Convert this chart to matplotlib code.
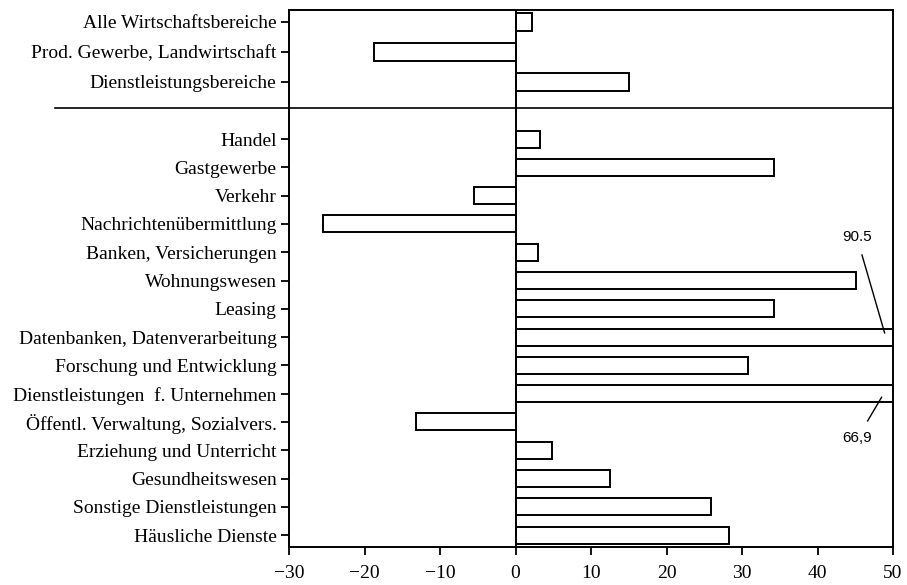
import matplotlib
matplotlib.use('Agg')
from matplotlib import pyplot as plt
from matplotlib.lines import Line2D

top_labels = ['Alle Wirtschaftsbereiche', 'Prod. Gewerbe, Landwirtschaft', 'Dienstleistungsbereiche']
top_values = [2.2, -18.8, 15.0]

labels = ['Handel', 'Gastgewerbe', 'Verkehr', 'Nachrichtenübermittlung',
          'Banken, Versicherungen', 'Wohnungswesen', 'Leasing',
          'Datenbanken, Datenverarbeitung', 'Forschung und Entwicklung',
          'Dienstleistungen  f. Unternehmen', 'Öffentl. Verwaltung, Sozialvers.',
          'Erziehung und Unterricht', 'Gesundheitswesen',
          'Sonstige Dienstleistungen', 'Häusliche Dienste']
values = [3.2, 34.3, -5.5, -25.5, 3.0, 45.1, 34.3, 90.5, 30.8, 66.9,
          -13.2, 4.9, 12.5, 25.9, 28.3]

xticks = [-30, -20, -10, 0, 10, 20, 30, 40, 50]

plt.rcParams['font.family'] = 'Liberation Serif'

fig = plt.figure(figsize=(9.07, 5.85), dpi=100)
left, width = 289 / 907, (893 - 289) / 907
ax_top = fig.add_axes([left, 1 - 108 / 585, width, 98 / 585])
ax = fig.add_axes([left, 1 - 547 / 585, width, 439 / 585])

for a, labs, vals in [(ax_top, top_labels, top_values), (ax, labels, values)]:
    pos = list(range(len(labs)))
    a.barh(pos, vals, height=0.6, color='white', edgecolor='black', linewidth=1.4)
    a.axvline(0, color='black', linewidth=1.4)
    a.set_xlim(-30, 50)
    a.set_yticks(pos)
    a.set_yticklabels(labs, fontsize=14)
    a.tick_params(axis='y', direction='out', length=6, width=1.3, pad=3)
    for s in a.spines.values():
        s.set_linewidth(1.4)

ax_top.set_ylim(2.87, -0.4)
ax_top.set_xticks([])
ax_top.spines['bottom'].set_visible(False)

ax.set_ylim(14.42, -1.1)
ax.spines['top'].set_visible(False)
ax.set_xticks(xticks)
ax.set_xticklabels([str(t).replace('-', '\u2212') for t in xticks], fontsize=14)
ax.tick_params(axis='x', direction='out', length=6, width=1.3, pad=7)

# separator between the two groups
fig.add_artist(Line2D([55 / 907, 893 / 907], [1 - 108 / 585, 1 - 108 / 585],
                      color='black', linewidth=1.2))

ax.annotate('90.5', xy=(48.9, 6.86), xytext=(45.2, 3.46), ha='center', va='center',
            fontsize=11, family='Liberation Sans',
            arrowprops=dict(arrowstyle='-', color='black', linewidth=1, shrinkA=6, shrinkB=0))
ax.annotate('66,9', xy=(48.5, 9.12), xytext=(45.3, 10.57), ha='center', va='center',
            fontsize=11, family='Liberation Sans',
            arrowprops=dict(arrowstyle='-', color='black', linewidth=1, shrinkA=6, shrinkB=0))

plt.savefig('out.png', dpi=100)
